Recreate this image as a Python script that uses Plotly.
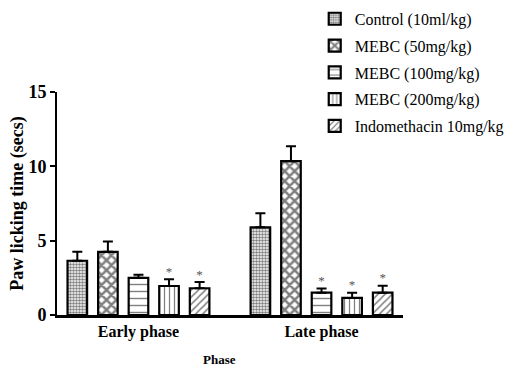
import plotly.graph_objects as go

phases = ["Early phase", "Late phase"]
groups = ["Control (10ml/kg)", "MEBC (50mg/kg)", "MEBC (100mg/kg)",
          "MEBC (200mg/kg)", "Indomethacin 10mg/kg"]

# mean paw licking time (secs), rows = group, columns = phase
means = [
    [3.65, 5.9],
    [4.25, 10.35],
    [2.5, 1.5],
    [1.95, 1.15],
    [1.8, 1.5],
]
sems = [
    [0.6, 0.95],
    [0.7, 1.0],
    [0.2, 0.28],
    [0.45, 0.35],
    [0.42, 0.47],
]
# significance marks shown above error bars
signif = [
    [False, False],
    [False, False],
    [False, True],
    [True, True],
    [True, True],
]

patterns = [
    dict(shape=".", size=3, solidity=0.55),
    dict(shape="x", size=7, solidity=0.6),
    dict(shape="-", size=7, solidity=0.2),
    dict(shape="|", size=5, solidity=0.25),
    dict(shape="/", size=5, solidity=0.3),
]

SERIF = "Liberation Serif"
slot = 0.167
bar_w = 0.107
n = len(groups)

fig = go.Figure()
for i, name in enumerate(groups):
    xs = [p + (i - (n - 1) / 2) * slot for p in range(len(phases))]
    fig.add_trace(go.Bar(
        x=xs, y=means[i], width=bar_w, name=name, legendgroup=name,
        marker=dict(color="white", line=dict(color="black", width=2.2),
                    pattern=dict(fgcolor="black", bgcolor="white", **patterns[i])),
        error_y=dict(type="data", array=sems[i], arrayminus=[0] * len(phases),
                     symmetric=False, color="black", thickness=2, width=5),
    ))
    sx = [x for x, s in zip(xs, signif[i]) if s]
    sy = [m + e for m, e, s in zip(means[i], sems[i], signif[i]) if s]
    if sx:
        fig.add_trace(go.Scatter(
            x=sx, y=sy, mode="text", text=["*"] * len(sx),
            textposition="top center", showlegend=False, hoverinfo="skip",
            textfont=dict(family=SERIF, size=13, color="#555555"),
        ))

fig.add_annotation(text="Phase", xref="paper", yref="paper",
                   x=0.471, y=-0.2, xanchor="center", yanchor="middle",
                   showarrow=False,
                   font=dict(family=SERIF, size=13, color="black", weight="bold"))

fig.update_layout(
    width=506, height=369,
    margin=dict(l=57, r=103, t=92, b=54, autoexpand=False),
    paper_bgcolor="white", plot_bgcolor="white",
    showlegend=True,
    legend=dict(xref="container", yref="container",
                x=0.622, y=0.995, xanchor="left", yanchor="top",
                font=dict(family=SERIF, size=16, color="black"),
                tracegroupgap=3, bgcolor="rgba(0,0,0,0)"),
    xaxis=dict(range=[-0.445, 1.445], tickvals=[0, 1], ticktext=phases,
               showgrid=False, zeroline=False, showline=True, automargin=False,
               linecolor="black", linewidth=3, ticks="",
               tickfont=dict(family=SERIF, size=16, color="black", weight="bold")),
    yaxis=dict(range=[0, 15], tickvals=[0, 5, 10, 15],
               showgrid=False, zeroline=False, showline=True, automargin=False,
               linecolor="black", linewidth=2, ticks="outside",
               ticklen=5, tickwidth=2, tickcolor="black",
               tickfont=dict(family=SERIF, size=18, color="black", weight="bold"),
               title=dict(text="Paw licking time (secs)", standoff=0,
                          font=dict(family=SERIF, size=18, color="black",
                                    weight="bold"))),
)

fig.write_html("out.html")
